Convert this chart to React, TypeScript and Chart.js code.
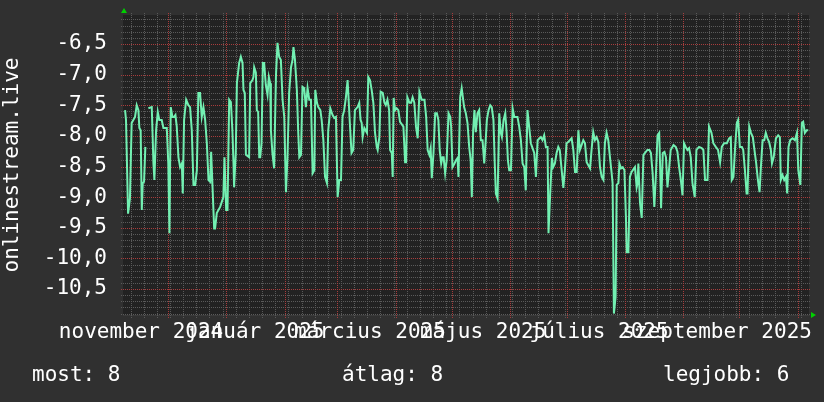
import React, { useEffect, useRef } from 'react';
import { Chart, registerables } from 'chart.js';

Chart.register(...registerables);

// Day offsets from the graph start (7 Nov 2024) and measured values
const DAYS: number[] = [
  1.1, 1.6, 2.7, 3.7, 4.6, 6.4, 7.3, 8.2, 8.7, 9.4, 10.0, 10.5, 11.2, 11.9, 12.5,
  13.5, 15.3, 16.2, 16.7, 17.6, 18.5, 19.3, 20.6, 21.5, 23.3, 24.1, 24.7, 25.4, 26.3, 27.2,
  27.9, 28.6, 29.5, 30.4, 31.3, 31.8, 32.5, 33.6, 34.8, 35.7, 36.6, 37.5, 38.4, 39.3, 40.1,
  41.0, 41.9, 42.8, 43.7, 44.6, 45.5, 46.4, 46.9, 48.5, 49.0, 49.9, 51.7, 53.4, 54.0, 54.9,
  55.6, 56.5, 57.4, 58.2, 58.8, 59.1, 60.0, 60.6, 61.8, 62.7, 63.6, 64.1, 64.8, 65.4, 67.1,
  67.7, 68.9, 69.4, 69.8, 70.7, 71.2, 71.9, 72.5, 73.0, 73.7, 74.4, 75.1, 76.0, 76.9, 77.6,
  78.3, 78.7, 79.5, 80.4, 81.4, 82.2, 83.1, 84.0, 84.9, 85.8, 86.7, 87.5, 88.4, 89.4, 90.2,
  90.7, 91.5, 92.5, 93.2, 93.8, 94.7, 95.5, 96.4, 97.3, 98.2, 99.1, 100.0, 100.9, 101.8, 102.3,
  103.2, 103.9, 105.0, 105.7, 106.6, 107.5, 108.5, 109.2, 110.3, 111.5, 112.4, 113.3, 114.2, 115.1, 116.0,
  116.8, 117.7, 118.6, 119.5, 120.8, 121.6, 122.5, 123.4, 124.8, 125.7, 126.4, 127.0, 127.5, 128.4, 129.8,
  130.5, 131.4, 132.3, 133.2, 134.1, 135.0, 135.5, 136.4, 137.1, 138.2, 139.1, 139.8, 140.7, 141.6, 142.1,
  143.0, 143.5, 144.0, 144.8, 145.6, 146.5, 147.4, 149.2, 150.1, 150.6, 151.3, 152.4, 153.3, 154.1, 155.0,
  155.9, 156.8, 157.7, 158.9, 160.4, 161.3, 162.1, 163.0, 163.7, 164.3, 165.2, 166.1, 167.0, 167.8, 168.5,
  169.3, 170.0, 170.6, 171.4, 172.2, 173.2, 174.1, 174.6, 175.3, 176.4, 177.1, 178.0, 178.5, 179.4, 180.2,
  181.5, 182.4, 183.3, 184.2, 185.0, 185.6, 186.3, 187.0, 187.7, 188.6, 189.5, 190.4, 191.3, 192.2, 193.0,
  193.6, 194.5, 195.4, 196.2, 197.1, 197.8, 198.4, 199.3, 200.2, 201.0, 201.6, 202.5, 203.4, 204.1, 204.8,
  205.5, 206.4, 207.3, 208.2, 209.9, 210.8, 211.7, 212.6, 213.5, 214.3, 215.2, 216.1, 217.0, 217.9, 218.8,
  219.7, 220.6, 222.3, 223.2, 224.1, 225.0, 225.9, 226.4, 227.3, 228.2, 228.9, 229.8, 230.7, 231.6, 232.4,
  233.4, 234.3, 235.1, 236.0, 236.9, 238.7, 239.6, 240.5, 241.4, 242.3, 243.1, 244.9, 245.8, 246.7, 248.5,
  249.3, 250.2, 251.1, 252.0, 252.9, 253.8, 254.7, 255.6, 256.4, 257.3, 258.2, 259.1, 260.0, 260.5, 261.2,
  262.1, 262.7, 263.6, 264.1, 265.0, 265.9, 266.8, 267.6, 268.0, 268.9, 269.7, 270.6, 272.4, 273.3, 273.8,
  274.2, 275.1, 276.0, 276.9, 279.0, 280.1, 280.9, 281.8, 282.7, 283.5, 284.4, 285.3, 285.8, 286.3, 287.2,
  288.1, 288.9, 289.7, 290.5, 291.4, 292.9, 294.1, 295.0, 295.9, 296.8, 297.7, 298.5, 299.4, 300.3, 301.2,
  302.1, 303.0, 304.2, 305.1, 306.5, 307.9, 308.8, 309.7, 311.0, 311.8, 313.1, 314.1, 315.4, 316.6, 317.7,
  318.6, 319.8, 321.3, 322.5, 323.4, 323.9, 324.8, 325.7, 326.6, 327.3, 328.2, 329.3, 330.0, 330.9, 331.8,
  332.3, 333.2, 334.1, 335.1, 336.2, 336.9, 337.8, 338.7, 339.4, 340.3, 341.2, 342.0, 342.9, 343.8, 344.7,
  345.3, 346.2, 347.4, 348.6, 349.5, 350.0, 350.9, 351.8, 352.7, 353.4, 354.1, 355.0, 356.3, 357.5, 358.6,
  359.3, 360.4, 361.2, 361.9, 362.8, 363.7, 364.6,
];

const VALUES: (number | null)[] = [
  -7.58, -7.74, -9.27, -9.02, -7.79, -7.69, -7.50, -7.58, -7.87, -7.91, -9.21, -8.77, -8.75, -8.18, null,
  -7.55, -7.53, -8.45, -8.72, -7.91, -7.61, -7.74, -7.74, -7.87, -7.87, -8.45, -9.59, -7.53, -7.69, -7.69,
  -7.66, -7.85, -8.35, -8.51, -8.45, -8.94, -7.74, -7.41, -7.50, -7.53, -7.91, -8.80, -8.80, -8.56, -7.30,
  -7.30, -7.69, -7.53, -7.74, -8.12, -8.72, -8.75, -8.26, -9.51, -9.51, -9.26, -9.16, -9.00, -8.35, -9.21,
  -9.21, -7.41, -7.45, -7.91, -8.45, -8.84, -8.28, -7.14, -6.81, -6.71, -6.81, -7.25, -7.30, -8.31, -8.35,
  -7.14, -7.09, -7.04, -6.88, -6.97, -7.58, -7.61, -8.35, -8.35, -8.12, -6.81, -6.81, -7.17, -7.33, -7.04,
  -7.14, -7.91, -8.28, -8.53, -7.01, -6.48, -6.71, -6.76, -7.41, -7.69, -8.92, -8.36, -7.30, -6.88, -6.76,
  -6.55, -6.76, -7.25, -7.91, -8.35, -8.31, -7.20, -7.22, -7.53, -7.22, -7.41, -7.41, -8.61, -8.56, -7.25,
  -7.46, -7.53, -7.58, -7.74, -8.07, -8.67, -8.77, -7.91, -7.55, -7.66, -7.71, -7.69, -9.00, -8.72, -8.72,
  -7.69, -7.58, -7.37, -7.09, -7.85, -8.28, -8.23, -7.58, -7.53, -7.46, -7.74, -7.79, -8.02, -7.87, -7.95,
  -7.04, -7.09, -7.25, -7.46, -7.95, -8.18, -8.23, -8.02, -7.28, -7.30, -7.46, -7.50, -7.41, -7.58, -8.23,
  -8.28, -8.67, -7.38, -7.58, -7.55, -7.58, -7.77, -7.85, -8.43, -8.43, -7.37, -7.46, -7.46, -7.37, -7.46,
  -7.85, -8.04, -7.28, -7.41, -7.41, -7.69, -8.23, -8.31, -8.20, -8.69, -8.28, -7.63, -7.63, -7.74, -8.23,
  -8.45, -8.35, -8.35, -8.61, -8.40, -7.63, -7.69, -7.85, -8.51, -8.45, -8.40, -8.36, -8.67, -7.37, -7.22,
  -7.53, -7.63, -7.79, -8.18, -8.40, -9.00, -7.91, -7.58, -7.94, -7.63, -7.58, -8.07, -8.07, -8.45, -8.07,
  -7.74, -7.58, -7.50, -7.53, -7.74, -8.45, -8.94, -9.02, -7.63, -7.95, -8.02, -7.74, -7.63, -7.94, -8.40,
  -8.56, -8.56, -7.55, -7.69, -7.69, -7.85, -8.07, -8.45, -8.51, -8.89, -7.58, -7.85, -8.12, -8.20, -8.28,
  -8.67, -8.07, -8.02, -8.07, -7.99, -8.18, -8.18, -9.59, -8.94, -8.36, -8.51, -8.45, -8.28, -8.18, -8.23,
  -8.56, -8.85, -8.56, -8.12, -8.10, -8.04, -8.23, -8.59, -8.59, -7.91, -8.23, -8.07, -8.12, -8.43, -8.53,
  -8.23, -7.94, -8.07, -8.02, -8.10, -8.51, -8.67, -8.72, -8.12, -7.95, -8.07, -8.35, -8.61, -8.77, -10.90,
  -10.63, -8.80, -8.77, -8.45, -8.53, -8.51, -8.56, -9.33, -9.90, -9.90, -8.67, -8.59, -8.51, -8.84, -8.77,
  -8.45, -9.10, -9.34, -8.31, -8.23, -8.23, -8.28, -8.61, -9.16, -8.67, -7.99, -7.95, -8.51, -9.18, -8.28,
  -8.26, -8.35, -8.84, -8.56, -8.23, -8.15, -8.18, -8.26, -8.51, -8.72, -8.97, -8.12, -8.18, -8.23, -8.20,
  -8.35, -8.77, -9.00, -8.23, -8.18, -8.20, -8.23, -8.72, -8.72, -7.85, -7.95, -8.12, -8.18, -8.23, -8.43,
  -8.18, -8.12, -8.12, -8.04, -8.02, -8.72, -8.67, -8.18, -7.79, -7.74, -8.18, -8.18, -8.23, -8.56, -8.94,
  -8.94, -7.85, -7.95, -8.02, -8.28, -8.45, -8.72, -8.92, -8.51, -8.07, -8.07, -7.95, -8.04, -8.10, -8.23,
  -8.45, -8.35, -8.04, -7.99, -8.02, -8.72, -8.64, -8.72, -8.67, -8.94, -8.18, -8.07, -8.04, -8.07, -7.95,
  -8.56, -8.80, -7.79, -7.77, -7.95, -7.91, -7.91,
];

// Month starts (day offsets): dec 2024 ... nov 2025
const MONTH_LINES: number[] = [24, 55, 86, 114, 145, 175, 206, 236, 267, 298, 328, 359];
const FIRST_MONDAY = 4;
const X_LABELS: string[] = ['november 2024', 'január 2025', 'március 2025', 'május 2025', 'július 2025', 'szeptember 2025'];
const X_LABEL_DAYS: number[] = [9.6, 70.2, 131.4, 191.6, 253.3, 316.1];
const X_MIN = 0;
const X_MAX = 365;
const Y_MIN = -10.924;
const Y_MAX = -6.027;
const Y_TITLE = 'onlinestream.live';
const LEGEND_TEXT: string[] = ['most: 8', 'átlag: 8', 'legjobb: 6'];

const FONT = "'DejaVu Sans Mono', monospace";
const BG = '#303030';
const PLOT_BG = '#222222';
const GRID_MINOR = '#5a5a5a';
const GRID_MAJOR = '#a83c3c';
const LINE = '#72f0b2';
const TEXT = '#ffffff';
const ARROW = '#00d000';

export default function App() {
  const ref = useRef<HTMLCanvasElement>(null);

  useEffect(() => {
    if (!ref.current) return;

    const deco = {
      id: 'rrdDeco',
      beforeDraw(chart: any) {
        const { ctx, chartArea: a } = chart;
        ctx.save();
        ctx.fillStyle = BG;
        ctx.fillRect(0, 0, chart.width, chart.height);
        ctx.fillStyle = PLOT_BG;
        ctx.fillRect(a.left, a.top, a.right - a.left, a.bottom - a.top);
        ctx.restore();
      },
      beforeDatasetsDraw(chart: any) {
        const { ctx, chartArea: a, scales } = chart;
        const xs = scales.x;
        const ys = scales.y;
        ctx.save();
        ctx.lineWidth = 1;
        ctx.setLineDash([1, 1]);
        const vline = (d: number, color: string) => {
          const px = Math.round(xs.getPixelForValue(d)) + 0.5;
          ctx.strokeStyle = color;
          ctx.beginPath();
          ctx.moveTo(px, a.top - 2);
          ctx.lineTo(px, a.bottom + 3);
          ctx.stroke();
        };
        const hline = (v: number, color: string) => {
          const py = Math.round(ys.getPixelForValue(v)) + 0.5;
          ctx.strokeStyle = color;
          ctx.beginPath();
          ctx.moveTo(a.left - 2, py);
          ctx.lineTo(a.right + 2, py);
          ctx.stroke();
        };
        for (let d = FIRST_MONDAY; d <= X_MAX; d += 7) vline(d, GRID_MINOR);
        for (let k = Math.ceil(Y_MIN * 10); k <= Math.floor(Y_MAX * 10); k++) {
          if (k % 5 !== 0) hline(k / 10, GRID_MINOR);
        }
        MONTH_LINES.forEach((d) => vline(d, GRID_MAJOR));
        for (let k = Math.ceil(Y_MIN * 2); k <= Math.floor(Y_MAX * 2); k++) hline(k / 2, GRID_MAJOR);
        ctx.restore();
      },
      afterDraw(chart: any) {
        const { ctx, chartArea: a } = chart;
        ctx.save();
        ctx.fillStyle = ARROW;
        ctx.beginPath();
        ctx.moveTo(a.left + 1, a.top - 7);
        ctx.lineTo(a.left - 2, a.top - 2);
        ctx.lineTo(a.left + 4, a.top - 2);
        ctx.closePath();
        ctx.fill();
        ctx.beginPath();
        ctx.moveTo(a.right + 7, a.bottom);
        ctx.lineTo(a.right + 2, a.bottom - 3);
        ctx.lineTo(a.right + 2, a.bottom + 3);
        ctx.closePath();
        ctx.fill();
        ctx.fillStyle = TEXT;
        ctx.font = `21px ${FONT}`;
        ctx.textBaseline = 'alphabetic';
        ctx.textAlign = 'left';
        const lx = [32, 342, 663];
        LEGEND_TEXT.forEach((t, i) => ctx.fillText(t, lx[i], 381));
        ctx.restore();
      },
    };

    const chart = new Chart(ref.current, {
      type: 'line',
      data: {
        datasets: [
          {
            data: DAYS.map((d, i) => ({ x: d, y: VALUES[i] })) as any,
            borderColor: LINE,
            borderWidth: 2,
            pointRadius: 0,
            tension: 0,
            spanGaps: false,
            fill: false,
          },
        ],
      },
      options: {
        responsive: false,
        animation: false,
        devicePixelRatio: 1,
        layout: { padding: { left: 0, right: 15, top: 15, bottom: 42 } },
        plugins: { legend: { display: false }, tooltip: { enabled: false }, title: { display: false } },
        scales: {
          x: {
            type: 'linear',
            min: X_MIN,
            max: X_MAX,
            afterBuildTicks: (scale: any) => {
              scale.ticks = X_LABEL_DAYS.map((d, i) => ({ value: d, text: X_LABELS[i] }));
            },
            afterFit: (scale: any) => {
              scale.height = 45;
              scale.paddingLeft = 0;
              scale.paddingRight = 0;
            },
            ticks: {
              autoSkip: false,
              maxRotation: 0,
              minRotation: 0,
              padding: 5,
              color: TEXT,
              font: { family: FONT, size: 21 },
              callback: (_v: any, i: number, ticks: any[]) => ticks[i].text,
            },
            grid: { display: false, drawTicks: false },
            border: { display: true, color: '#3a3a3a' },
          },
          y: {
            type: 'linear',
            min: Y_MIN,
            max: Y_MAX,
            afterBuildTicks: (scale: any) => {
              const t: any[] = [];
              for (let k = Math.ceil(Y_MIN * 2); k <= Math.floor(Y_MAX * 2); k++) t.push({ value: k / 2 });
              scale.ticks = t;
            },
            afterFit: (scale: any) => {
              scale.width = 123;
              scale.paddingTop = 0;
              scale.paddingBottom = 0;
            },
            ticks: {
              autoSkip: false,
              padding: 16,
              color: TEXT,
              font: { family: FONT, size: 21 },
              callback: (v: any) => Number(v).toFixed(1).replace('.', ','),
            },
            grid: { display: false, drawTicks: false },
            border: { display: false },
            title: {
              display: true,
              text: Y_TITLE,
              color: TEXT,
              font: { family: FONT, size: 21 },
              padding: 0,
            },
          },
        },
      },
      plugins: [deco],
    } as any);

    return () => chart.destroy();
  }, []);

  return (
    <div style={{ position: 'fixed', left: 0, top: 0, width: 824, height: 402 }}>
      <canvas ref={ref} width={824} height={402} style={{ display: 'block' }} />
    </div>
  );
}
